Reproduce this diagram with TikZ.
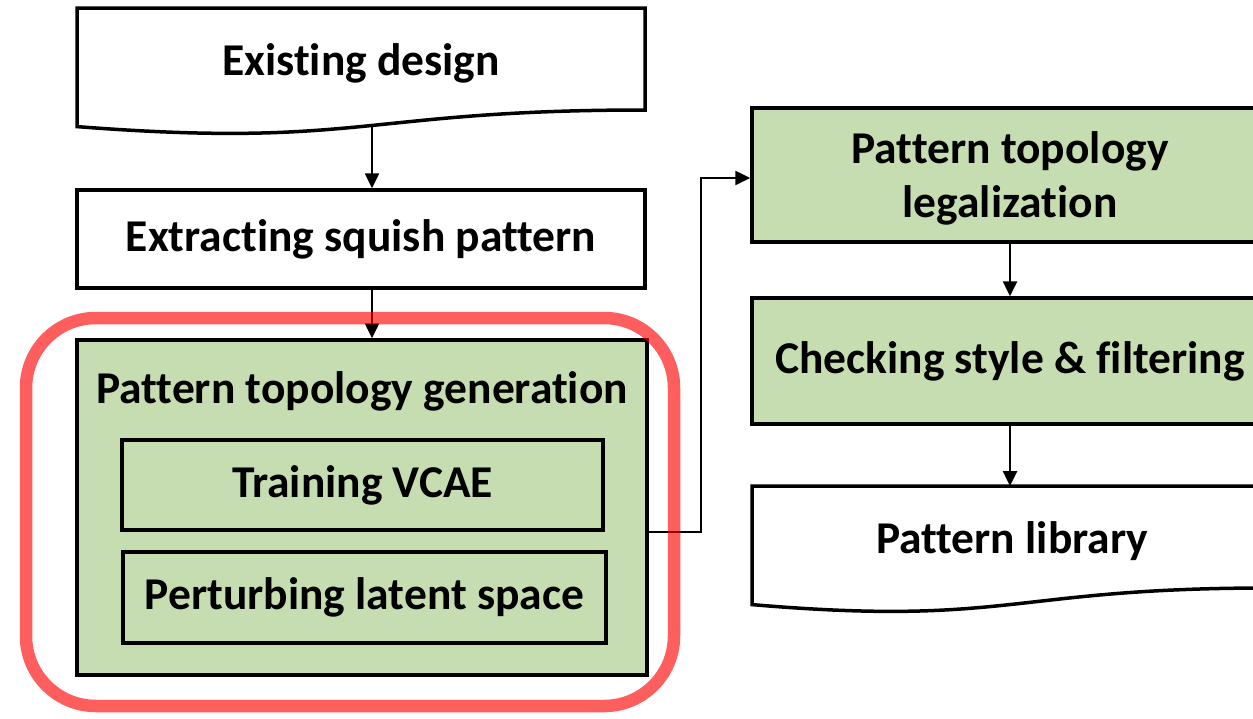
\documentclass[tikz,border=0pt]{standalone}
\usepackage{fontspec}
\setmainfont[Ligatures={NoCommon}]{Carlito}
\usetikzlibrary{arrows.meta}
\definecolor{boxgreen}{HTML}{C5DDB1}
\begin{document}
\begin{tikzpicture}[x=1pt,y=-1pt,
  boxline/.style={draw=black,line width=3.5},
  proc/.style={boxline,rectangle,inner sep=0,align=center,
    font=\fontsize{45.5}{55}\selectfont\bfseries},
  txt/.style={inner sep=0,align=center,font=\fontsize{45.5}{55}\selectfont\bfseries},
  arr/.style={draw=black,line width=2.5,-{Triangle[length=15,width=14]}},
  conn/.style={draw=black,line width=2.5}]
\useasboundingbox (0,0) rectangle (1253,718);
% Existing design (document shape)
\draw[boxline,fill=white] (77,8) -- (645,8) -- (645,110) .. controls (361,110) and (361,148.6) .. (77,126.6) -- cycle;
\node[txt] (ed) at (361,63) {Existing design};
\coordinate (edb) at (372,125);
% Extracting squish pattern
\node[proc,fill=white,minimum width=568,minimum height=98] (ex) at (361,239) {\raisebox{-3pt}{Extracting squish pattern}};
% Pattern topology generation
\node[proc,fill=boxgreen,minimum width=570,minimum height=335] (gen) at (362,507.5) {};
\node[txt] (gent) at (362,391) {Pattern topology generation};
\node[proc,fill=boxgreen,minimum width=481,minimum height=90] (tr) at (362.5,485) {\raisebox{-3pt}{Training VCAE}};
\node[proc,fill=boxgreen,minimum width=483,minimum height=91] (pe) at (364.5,597.5) {\raisebox{-3pt}{Perturbing latent space}};
% right column
\node[proc,fill=boxgreen,minimum width=516,minimum height=134] (leg) at (1010,175) {};
\node[txt,font=\fontsize{45.5}{54}\selectfont\bfseries] (legt) at (1010,178) {Pattern topology\\legalization};
\node[proc,fill=boxgreen,minimum width=516,minimum height=126] (chk) at (1010,361) {\raisebox{-3pt}{Checking style \& filtering}};
\draw[boxline,fill=white] (752,486) -- (1268,486) -- (1268,588) .. controls (1010,588) and (1010,626.6) .. (752,604.6) -- cycle;
\node[txt] (lib) at (1012,541) {Pattern library};
\coordinate (libt) at (1010,486);
% connectors
\draw[arr] (edb) -- (edb |- ex.north);
\draw[arr] (ex.south -| edb) -- (gen.north -| edb);
\draw[conn,-{Triangle[length=15,width=14]}] ([yshift=-24.5]gen.east) -- ++(52,0) |- ([yshift=-3]leg.west);
\draw[arr] (leg.south) -- (chk.north);
\draw[arr] (chk.south) -- (libt);
% highlight
\node[draw=red,draw opacity=0.63,line width=12.5,rounded corners=70,minimum width=648,minimum height=388,inner sep=0] (hl) at (350,512) {};
\end{tikzpicture}
\end{document}
